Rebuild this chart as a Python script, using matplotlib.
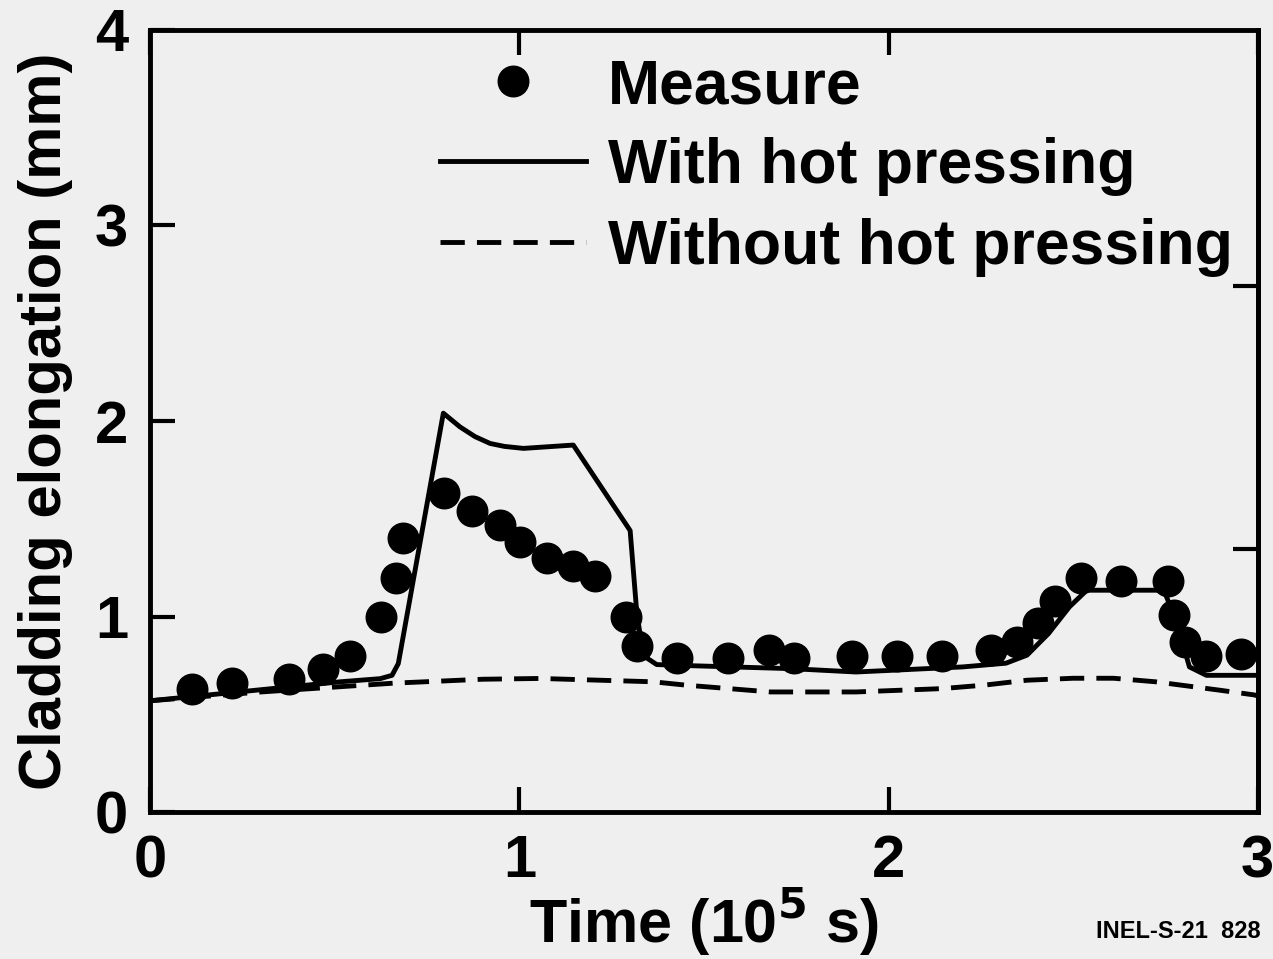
import matplotlib
matplotlib.use("Agg")
import matplotlib.pyplot as plt
from matplotlib.lines import Line2D

plt.rcParams["font.family"] = ["Liberation Sans", "DejaVu Sans"]
plt.rcParams["font.weight"] = "bold"
plt.rcParams["mathtext.default"] = "bf"

# measured cladding elongation
meas_t = [0.113, 0.221, 0.377, 0.469, 0.540, 0.625, 0.666, 0.686, 0.796, 0.873,
          0.948, 1.002, 1.076, 1.146, 1.205, 1.289, 1.318, 1.427, 1.566, 1.675,
          1.745, 1.901, 2.022, 2.144, 2.277, 2.347, 2.405, 2.450, 2.520, 2.630,
          2.757, 2.774, 2.803, 2.861, 2.954]
meas_mm = [0.63, 0.66, 0.68, 0.73, 0.80, 1.00, 1.20, 1.40, 1.63, 1.54,
           1.47, 1.38, 1.30, 1.26, 1.21, 1.00, 0.85, 0.79, 0.79, 0.83,
           0.79, 0.80, 0.80, 0.80, 0.83, 0.87, 0.97, 1.08, 1.20, 1.18,
           1.18, 1.01, 0.87, 0.80, 0.81]

# calculation with hot pressing
hot_t = [0.0, 0.515, 0.623, 0.655, 0.672, 0.794, 0.839, 0.88, 0.921, 0.96,
         1.011, 1.146, 1.300, 1.318, 1.336, 1.372, 1.45, 1.738, 1.912, 2.201,
         2.318, 2.375, 2.433, 2.490, 2.537, 2.746, 2.781, 2.815, 2.861, 3.0]
hot_mm = [0.57, 0.667, 0.683, 0.70, 0.76, 2.04, 1.97, 1.92, 1.885, 1.87,
          1.86, 1.877, 1.44, 1.02, 0.80, 0.755, 0.75, 0.734, 0.717, 0.743,
          0.762, 0.803, 0.913, 1.05, 1.135, 1.135, 0.966, 0.743, 0.70, 0.70]

# calculation without hot pressing
cold_t = [0.0, 0.3, 0.66, 0.9, 1.056, 1.218, 1.362, 1.45, 1.68, 1.912,
          2.144, 2.26, 2.375, 2.5, 2.61, 2.723, 2.897, 2.99, 3.0]
cold_mm = [0.57, 0.615, 0.66, 0.68, 0.684, 0.675, 0.667, 0.65, 0.615, 0.615,
           0.632, 0.65, 0.675, 0.685, 0.685, 0.667, 0.624, 0.60, 0.595]

x_ticks = [0, 1, 2, 3]
y_ticks = [0, 1, 2, 3, 4]
right_ticks = [1.345, 2.69]  # unlabelled ticks on the right-hand scale

bg = "#efefef"
lw = 3.5
dash = (5, 2.5)

fig = plt.figure(figsize=(12.73, 9.59), dpi=100, facecolor=bg)
ax = fig.add_axes([0.118, 0.153, 0.870, 0.816], facecolor=bg)

ax.plot(cold_t, cold_mm, color="black", lw=lw, dashes=dash)
ax.plot(hot_t, hot_mm, color="black", lw=lw, solid_joinstyle="round")
ax.plot(meas_t, meas_mm, "o", color="black", ms=22, zorder=3)

ax.set_xlim(0, 3)
ax.set_ylim(0, 4)
ax.set_xticks(x_ticks)
ax.set_yticks(y_ticks)
ax.tick_params(direction="in", length=18, width=3, top=True, right=False,
               labelsize=43, pad=16)
for s in ax.spines.values():
    s.set_linewidth(3.5)

sec = ax.secondary_yaxis("right")
sec.set_yticks(right_ticks)
sec.set_yticklabels([])
sec.tick_params(direction="in", length=18, width=3)
sec.spines["right"].set_linewidth(3.5)

ax.set_xlabel("Time (10$^5$ s)", fontsize=44, fontweight="bold")
ax.xaxis.set_label_coords(0.5, -0.095)
ax.set_ylabel("Cladding elongation (mm)", fontsize=43, fontweight="bold")
ax.yaxis.set_label_coords(-0.07, 0.5)

handles = [
    Line2D([], [], marker="o", ls="none", color="black", ms=22),
    Line2D([], [], color="black", lw=lw),
    Line2D([], [], color="black", lw=lw, dashes=dash),
]
labels = ["Measure", "With hot pressing", "Without hot pressing"]
ax.legend(handles, labels, loc="upper left", bbox_to_anchor=(0.262, 0.965),
          frameon=False, fontsize=45, handlelength=2.33, handletextpad=0.35,
          labelspacing=0.34, borderpad=0, borderaxespad=0, numpoints=1)

fig.text(0.990, 0.022, "INEL-S-21  828", ha="right", va="baseline",
         fontsize=17, fontweight="bold")

fig.savefig("out.png", dpi=100, facecolor=bg)
